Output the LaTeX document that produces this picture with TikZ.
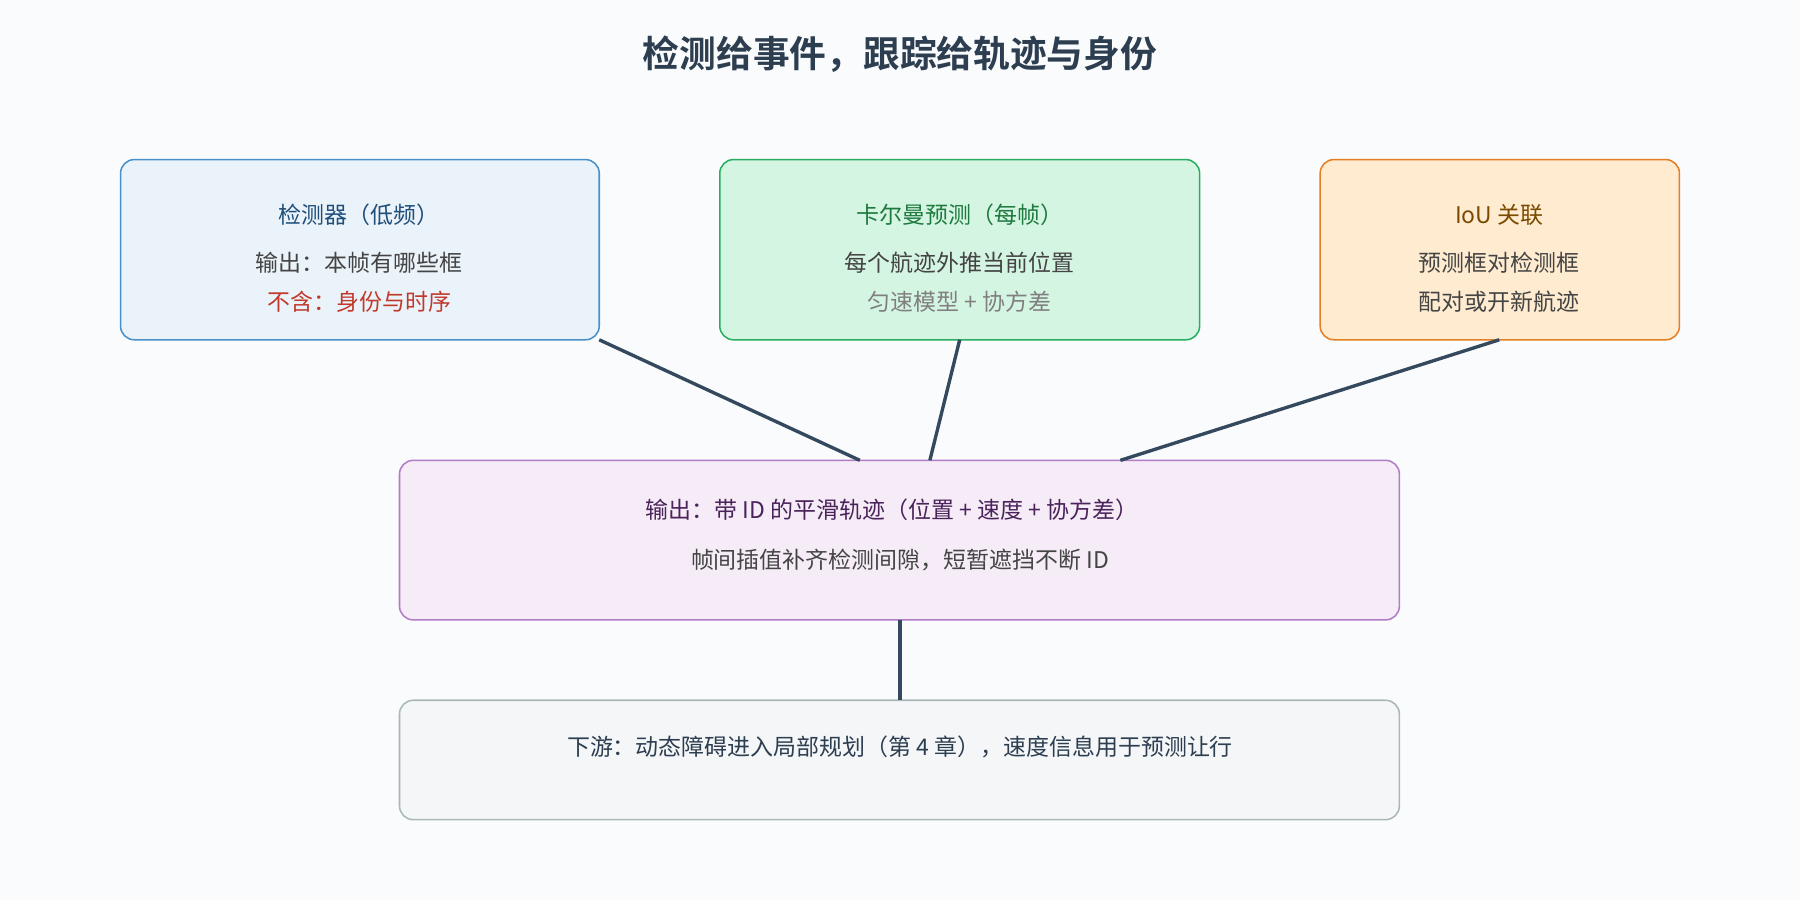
\documentclass[tikz,border=0pt]{standalone}
\usepackage{fontspec}
\setmainfont{Noto Sans CJK SC}
\newfontfamily\titlefont{Noto Sans CJK SC Bold}
\definecolor{bgc}{HTML}{FAFBFD}
\definecolor{linec}{HTML}{34495E}
\definecolor{titlec}{HTML}{2C3E50}
\definecolor{txtc}{HTML}{444444}
\definecolor{detd}{HTML}{4A90C8}\definecolor{detf}{HTML}{EBF3FA}\definecolor{dett}{HTML}{1F4E79}
\definecolor{kald}{HTML}{27AE60}\definecolor{kalf}{HTML}{D5F5E3}\definecolor{kalt}{HTML}{1E7A3E}
\definecolor{ioud}{HTML}{E67E22}\definecolor{iouf}{HTML}{FEEBD0}\definecolor{iout}{HTML}{7A4A00}
\definecolor{outd}{HTML}{B07CC6}\definecolor{outf}{HTML}{F5ECF7}\definecolor{outt}{HTML}{4A235A}
\definecolor{downd}{HTML}{AAB7B8}\definecolor{downf}{HTML}{F4F6F8}
\definecolor{redc}{HTML}{C0392B}\definecolor{grayc}{HTML}{7F7F7F}
\tikzset{every picture/.style={line width=0.75pt}}
\tikzset{
  box/.style={draw, rounded corners=9pt, line width=1pt},
  lbl/.style={inner sep=0.75pt, font=\fontsize{15}{18}\selectfont, text=txtc},
  conn/.style={draw=linec, line width=2.2pt}
}
\begin{document}
\begin{tikzpicture}[x=0.75pt,y=0.75pt,yscale=-1,xscale=1]
		% Background
		\fill[bgc] (0,0) rectangle (1568,784);
		\useasboundingbox (0,0) rectangle (1568,784);
		% Title
		\node (title) at (784,47) [inner sep=0.75pt, text=titlec] {\titlefont\fontsize{24}{28}\selectfont 检测给事件，跟踪给轨迹与身份};

		% Boxes
		\draw [box, draw=detd, fill=detf] (105,139) rectangle (522,296);
		\draw [box, draw=kald, fill=kalf] (627,139) rectangle (1045,296);
		\draw [box, draw=ioud, fill=iouf] (1150,139) rectangle (1463,296);
		\draw [box, draw=outd, fill=outf] (348,401) rectangle (1219,540);
		\draw [box, draw=downd, fill=downf] (348,610) rectangle (1219,714);

		% Anchor points
		\coordinate (det) at (522,296);
		\coordinate (kal) at (836,296);
		\coordinate (iou) at (1306,296);
		\coordinate (outa) at (749,401);
		\coordinate (outb) at (810,401);
		\coordinate (outc) at (976,401);
		\coordinate (outs) at (784,540);
		\coordinate (down) at (784,610);

		% Connectors
		\draw [conn] (det) -- (outa);
		\draw [conn] (kal) -- (outb);
		\draw [conn] (iou) -- (outc);
		\draw [conn] (outs) -- (down);

		% Text Node
		\node (dettl) at (313,187) [lbl, text=dett] {检测器（低频）};
		\node (det1) at (313,229) [lbl] {输出：本帧有哪些框};
		\node (det2) at (313,263) [lbl, text=redc] {不含：身份与时序};
		% Text Node
		\node (kaltl) at (836,187) [lbl, text=kalt] {卡尔曼预测（每帧）};
		\node (kal1) at (836,229) [lbl] {每个航迹外推当前位置};
		\node (kal2) at (836,263) [lbl, text=grayc] {匀速模型 + 协方差};
		% Text Node
		\node (ioutl) at (1306,187) [lbl, text=iout] {IoU 关联};
		\node (iou1) at (1306,229) [lbl] {预测框对检测框};
		\node (iou2) at (1306,263) [lbl] {配对或开新航迹};
		% Text Node
		\node (outtl) at (777,444) [lbl, text=outt] {输出：带 ID 的平滑轨迹（位置 + 速度 + 协方差）};
		\node (out1) at (784,488) [lbl] {帧间插值补齐检测间隙，短暂遮挡不断 ID};
		% Text Node
		\node (downtl) at (784,651) [lbl, text=titlec] {下游：动态障碍进入局部规划（第 4 章），速度信息用于预测让行};
\end{tikzpicture}
\end{document}
